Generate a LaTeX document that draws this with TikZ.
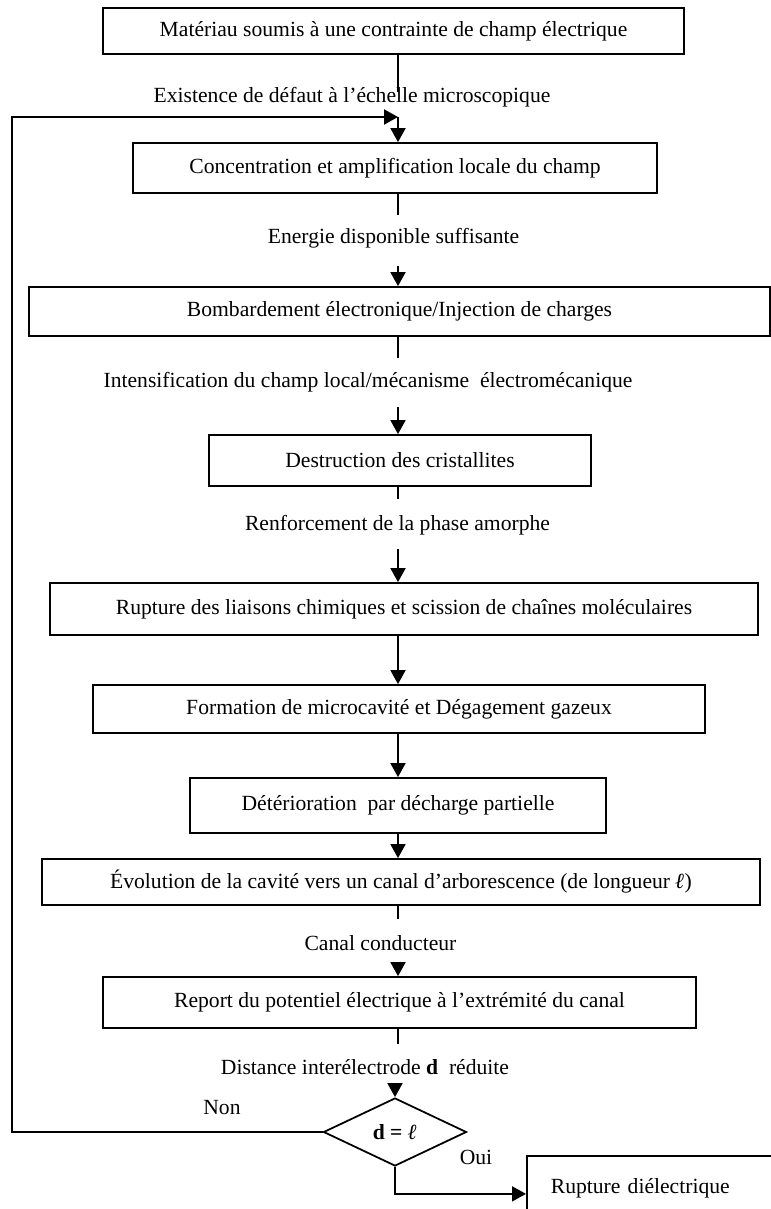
\documentclass[tikz,border=0pt]{standalone}
\usepackage{fontspec}
\setmainfont{Liberation Serif}
\usetikzlibrary{arrows.meta,shapes.geometric}
\begin{document}
\begin{tikzpicture}[>={Triangle[length=2.8mm,width=3mm]}, line width=1pt,
	font=\fontsize{12.3}{15}\selectfont,
	boite/.style={draw, inner sep=0pt},
	boucle/.style={line width=1.2pt}]
	\clip (0,0) rectangle (15.42,-24.18);
	% les etapes
	\node [boite, minimum width=11.62cm, minimum height=0.92cm] (mat) at (7.87,-0.62) {Matériau soumis à une contrainte de champ électrique};
	\node [boite, minimum width=10.48cm, minimum height=1cm] (conc) at (7.90,-3.36) {Concentration et amplification locale du champ};
	\node [boite, minimum width=14.82cm, minimum height=0.98cm] (bomb) at (7.99,-6.23) {Bombardement électronique/Injection de charges};
	\node [boite, minimum width=7.64cm, minimum height=1.02cm] (destr) at (8.00,-9.21) {Destruction des cristallites};
	\node [boite, minimum width=14.16cm, minimum height=1.04cm] (liais) at (8.08,-12.18) {Rupture des liaisons chimiques et scission de chaînes moléculaires};
	\node [boite, minimum width=12.24cm, minimum height=0.96cm] (cav) at (7.98,-14.18) {Formation de microcavité et Dégagement gazeux};
	\node [boite, minimum width=8.32cm, minimum height=1.10cm] (deter) at (7.96,-16.11) {Détérioration\ \ par décharge partielle};
	\node [boite, minimum width=14.36cm, minimum height=0.92cm] (evol) at (8.02,-17.64) {Évolution de la cavité vers un canal d’arborescence (de longueur \textbf{\textit{ℓ}})};
	\node [boite, minimum width=11.86cm, minimum height=1.02cm] (report) at (7.99,-20.05) {Report du potentiel électrique à l’extrémité du canal};
	\node [draw, diamond, aspect=2.1, minimum width=2.86cm, minimum height=1.36cm, inner sep=0pt] (test) at (7.90,-22.64) {\textbf{d = \textit{ℓ}}};
	\node [draw, anchor=north west, inner xsep=0.48cm, inner ysep=0.45cm, text height=0.31cm, text depth=1.5cm, text width=5cm, align=left] (fin) at (10.52,-23.10) {Rupture diélectrique};
	% les textes entre les etapes
	\node (defaut) at (7.04,-1.94) {Existence de défaut à l’échelle microscopique};
	\node (energie) at (7.87,-4.76) {Energie disponible suffisante};
	\node (intens) at (7.36,-7.64) {Intensification du champ local/mécanisme\ \ électromécanique};
	\node (renf) at (7.95,-10.50) {Renforcement de la phase amorphe};
	\node (canal) at (7.61,-18.86) {Canal conducteur};
	\node (dist) at (7.30,-21.34) {Distance interélectrode \textbf{d}\ \ réduite};
	\node (non) at (4.44,-22.16) {Non};
	\node (oui) at (9.52,-23.14) {Oui};
	% liaisons
	\coordinate (axe) at (7.96,0);
	\coordinate (jonc) at (7.96,-2.34);
	\coordinate (bord) at (0.24,-2.34);
	\draw (mat.south -| axe) -- ++(0,-0.74);
	\draw [->] (jonc) -- (conc.north -| axe);
	\draw (conc.south -| axe) -- ++(0,-0.42);
	\draw [<-] (bomb.north -| axe) -- ++(0,0.4);
	\draw (bomb.south -| axe) -- ++(0,-0.42);
	\draw [<-] (destr.north -| axe) -- ++(0,0.54);
	\draw (destr.south -| axe) -- ++(0,-0.24);
	\draw [<-] (liais.north -| axe) -- ++(0,0.66);
	\draw [->] (liais.south -| axe) -- (cav.north -| axe);
	\draw [->] (cav.south -| axe) -- (deter.north -| axe);
	\draw [->] (deter.south -| axe) -- (evol.north -| axe);
	\draw (evol.south -| axe) -- ++(0,-0.26);
	\draw [<-] (report.north -| axe) -- ++(0,0.26);
	\draw (report.south -| axe) -- ++(0,-0.30);
	\draw [<-] (test.north) -- ++(0,0.26);
	\draw [boucle, ->] (test.west) -| (bord) -- (jonc);
	\draw [->] (test.south) |- (fin.base west);
\end{tikzpicture}
\end{document}
